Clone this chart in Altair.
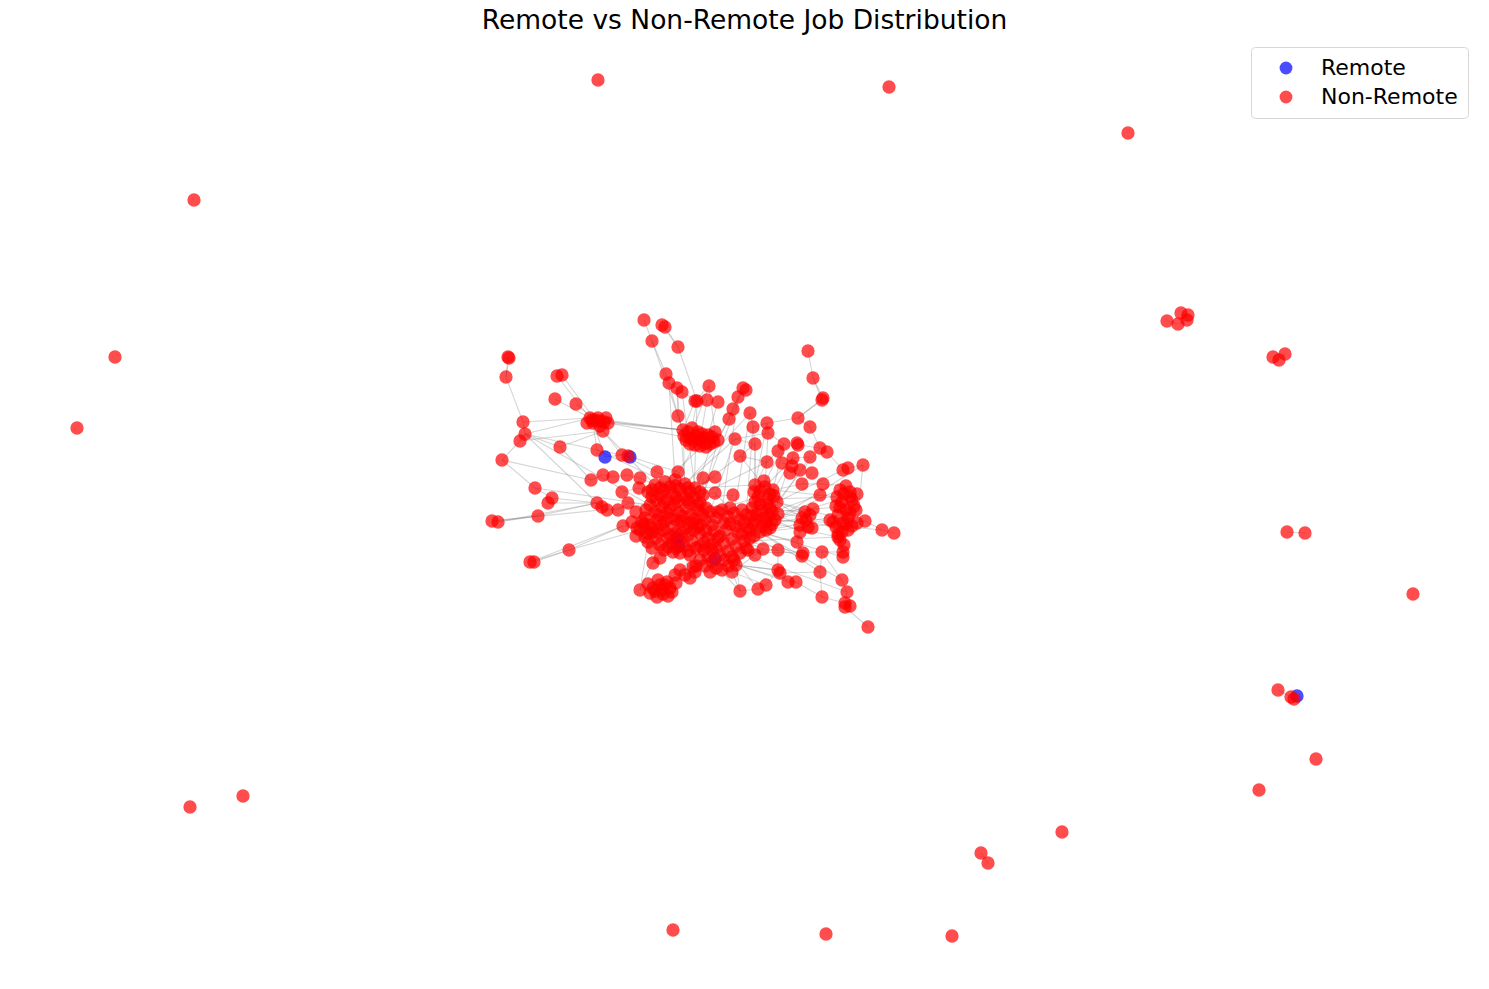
import altair as alt
import pandas as pd

# node positions in layout units (pixel grid of the original figure)
# isolated / small components, index 0-29
outer_nodes = [
    (598, 80), (889, 87), (1128, 133), (194, 200), (115, 357), (77, 428),
    (1167, 321), (1178, 324), (1181, 313), (1188, 315),
    (1187, 320), (1273, 357), (1279, 360), (1285, 354), (1287, 532),
    (1305, 533), (1413, 594), (1278, 690), (1291, 697), (1294, 699),
    (1316, 759), (1259, 790), (1062, 832), (981, 853), (988, 863),
    (190, 807), (243, 796), (673, 930), (826, 934), (952, 936),
]

# upper part of the main component, index 30-71
upper_nodes = [
    (644, 320), (662, 325), (665, 327), (652, 341), (678, 347), (508, 357),
    (509, 358), (506, 377), (557, 376), (562, 375),
    (666, 374), (669, 383), (677, 388), (682, 392), (555, 399), (576, 404),
    (697, 401), (590, 418), (595, 420), (600, 421),
    (608, 423), (593, 423), (603, 431), (678, 416), (523, 422), (525, 434),
    (520, 441), (560, 447), (502, 460), (597, 450),
    (622, 455), (628, 456), (657, 472), (678, 472), (683, 430), (690, 438),
    (700, 440), (708, 435), (715, 432), (695, 445),
    (705, 443), (718, 440),
]

# right part, index 72-163
right_nodes = [
    (808, 351), (813, 378), (823, 398), (822, 400), (709, 386), (743, 388),
    (746, 390), (695, 401),
    (707, 400), (718, 402), (738, 397), (733, 409), (729, 419), (750, 413),
    (767, 423), (768, 433), (798, 418), (810, 427),
    (753, 427), (735, 439), (755, 444), (784, 444), (778, 451), (797, 443),
    (798, 445), (820, 448), (827, 452), (740, 456),
    (767, 462), (793, 458), (792, 466), (782, 463), (810, 457), (800, 470),
    (790, 473), (812, 473), (843, 470), (848, 468),
    (863, 465), (802, 484), (823, 484), (846, 486), (703, 478), (715, 477),
    (820, 495), (837, 497), (850, 497), (857, 494),
    (715, 493), (733, 495), (805, 512), (813, 509), (840, 507), (850, 513),
    (802, 518), (808, 527), (812, 528), (833, 522),
    (843, 523), (857, 523), (865, 521), (882, 530), (894, 533), (800, 532),
    (797, 542), (838, 537), (840, 540), (803, 553),
    (802, 556), (822, 552), (843, 552), (843, 557), (778, 550), (763, 549),
    (755, 555), (748, 550), (778, 570), (780, 573),
    (820, 572), (732, 572), (796, 582), (788, 582), (740, 591), (758, 589),
    (766, 585), (842, 580), (847, 592), (822, 597),
    (845, 603), (850, 606), (845, 607), (868, 627),
]

# left part, index 164-203
left_nodes = [
    (591, 480), (603, 475), (613, 477), (627, 475), (640, 478), (622, 492),
    (639, 488), (648, 492), (535, 488), (552, 498), (548, 503), (597, 503),
    (602, 507), (607, 510), (618, 510), (628, 503),
    (538, 516), (492, 521), (498, 522), (623, 526), (637, 528), (647, 533),
    (569, 550), (530, 562), (534, 562), (653, 563),
    (660, 558), (668, 547), (673, 552), (680, 553), (640, 590), (653, 588),
    (662, 590), (670, 588), (667, 582), (658, 580),
    (663, 594), (690, 578), (680, 570), (693, 567),
]

# dense core, index 204-270
core_nodes = [
    (655, 485), (665, 482), (675, 480), (685, 484), (695, 488), (660, 495),
    (672, 493), (683, 496), (694, 498), (703, 495), (650, 505), (662, 507),
    (674, 505), (686, 508), (698, 510), (645, 518),
    (657, 520), (669, 518), (681, 521), (693, 523), (705, 520), (640, 530),
    (652, 532), (664, 530), (676, 533), (688, 535),
    (700, 533), (648, 542), (660, 545), (672, 543), (684, 546), (696, 548),
    (710, 512), (722, 510), (734, 513), (746, 515),
    (712, 525), (724, 523), (736, 526), (748, 528), (708, 538), (720, 536),
    (732, 539), (744, 541), (704, 550), (716, 548),
    (728, 551), (740, 553), (700, 560), (712, 562), (724, 560), (736, 565),
    (690, 555), (755, 485), (765, 487), (773, 490),
    (758, 497), (768, 499), (777, 502), (752, 508), (762, 510), (772, 512),
    (756, 520), (766, 522), (775, 520), (750, 530),
    (760, 532),
]

# overlapping nodes inside the packed clusters
packed_nodes = [
    (660, 488), (670, 487), (680, 489), (690, 492), (656, 500), (667, 500),
    (678, 501), (689, 503), (700, 503), (655, 512), (667, 513), (679, 513),
    (691, 515), (703, 515), (650, 525), (662, 525), (674, 526), (686, 528),
    (698, 527), (645, 537), (656, 538), (668, 538), (680, 540), (692, 541),
    (704, 543), (716, 518), (728, 517), (740, 520), (714, 531), (726, 530),
    (738, 533), (712, 544), (724, 543), (736, 546), (708, 556), (720, 555),
    (732, 557), (716, 568), (705, 566), (728, 566), (760, 491), (770, 494),
    (755, 502), (767, 505), (757, 514), (769, 516), (762, 526), (753, 524),
    (770, 528), (688, 432), (696, 436), (704, 438), (712, 437), (690, 444),
    (700, 446), (710, 444), (686, 440), (698, 432), (598, 418), (604, 422),
    (592, 420), (844, 494), (852, 500), (842, 502), (846, 510), (838, 515),
    (848, 518), (856, 510), (836, 527), (848, 530), (842, 532), (806, 520),
    (810, 515), (800, 525), (650, 593), (657, 597), (665, 585), (672, 592),
    (660, 585), (655, 591), (685, 575), (675, 575), (695, 572), (636, 512),
    (642, 522), (632, 522),
    (652, 490), (664, 490), (676, 486), (688, 488), (700, 492), (652, 497),
    (664, 502), (676, 498), (688, 500), (698, 505), (646, 510), (658, 515),
    (670, 510), (682, 516), (694, 519), (706, 508), (652, 528), (664, 522),
    (676, 520), (688, 523), (700, 525), (644, 524), (636, 536), (658, 533),
    (670, 535), (682, 533), (694, 530), (706, 531), (652, 548), (664, 550),
    (676, 548), (688, 551), (700, 546), (712, 550), (718, 512), (730, 508),
    (742, 510), (718, 538), (730, 524), (742, 534), (750, 538), (734, 560),
    (746, 548), (722, 570), (710, 572), (696, 566), (754, 492), (764, 481),
    (774, 496), (760, 504), (770, 508), (778, 514), (752, 516), (764, 518),
    (772, 524), (754, 536), (766, 530), (744, 522), (692, 428), (702, 434),
    (714, 442), (684, 436), (694, 440), (706, 447), (840, 490), (850, 492),
    (836, 506), (854, 506), (846, 524), (852, 526), (838, 534), (844, 545),
    (830, 520), (587, 423), (606, 418), (600, 426), (648, 584), (668, 596),
    (676, 583),
]

remote_nodes = [(605, 457), (630, 457), (677, 538), (679, 546), (715, 559), (1297, 696)]

# edges between non-remote nodes (indices into the lists above, in order)
edges = [
    (6, 7), (8, 9), (9, 10), (7, 10), (11, 12), (12, 13), (14, 15), (17, 18),
    (18, 19), (23, 24),
    (35, 37), (36, 37), (37, 54), (54, 55), (55, 56), (56, 58), (55, 57),
    (55, 47), (55, 59), (56, 52), (57, 52), (57, 164), (58, 172), (44, 47),
    (38, 47), (39, 48), (45, 48), (49, 64), (50, 65), (48, 64), (51, 59),
    (52, 60), (59, 60), (60, 62), (61, 63),
    (30, 33), (33, 40), (31, 34), (32, 34), (34, 46), (40, 41), (41, 42),
    (42, 43), (41, 53), (42, 53), (43, 46), (53, 64), (46, 65),
    (64, 65), (65, 66), (66, 67), (67, 68), (69, 70), (70, 71), (64, 69),
    (76, 65), (79, 64), (80, 66), (81, 67), (77, 71), (78, 82), (82, 83),
    (83, 84), (84, 71), (85, 90), (86, 90), (87, 91), (76, 79),
    (72, 73), (73, 74), (73, 75), (74, 88), (75, 88), (88, 86), (88, 89),
    (89, 97), (86, 87), (87, 93), (93, 94), (95, 96), (96, 97), (97, 98),
    (98, 108), (101, 104), (102, 103), (105, 106), (107, 111), (108, 109),
    (109, 110), (110, 131), (111, 112), (112, 113), (113, 118), (116, 117),
    (117, 118), (118, 119), (94, 100), (92, 99), (99, 100), (91, 92), (90, 92),
    (262, 122), (262, 126), (265, 129), (268, 130), (268, 135), (259, 116),
    (261, 117), (265, 124), (264, 127), (262, 131), (267, 137), (270, 136),
    (263, 122), (243, 126), (259, 111), (258, 101), (257, 100), (257, 92),
    (258, 99), (260, 93), (213, 114), (208, 115), (207, 91), (206, 69),
    (205, 70), (210, 120), (212, 121), (237, 121), (238, 120),
    (122, 123), (124, 125), (126, 127), (127, 128), (129, 130), (130, 131),
    (131, 132), (132, 133), (133, 134), (135, 136), (137, 138), (138, 142),
    (139, 140), (141, 142), (142, 143), (136, 139), (129, 137), (124, 129),
    (125, 130), (140, 144), (144, 145), (145, 146), (146, 147), (144, 148),
    (148, 149), (149, 150), (150, 141), (141, 157), (157, 158), (158, 160),
    (160, 161), (161, 162), (162, 163), (159, 160), (152, 153), (153, 149),
    (152, 159), (150, 159), (154, 155), (155, 156), (156, 148), (151, 154),
    (151, 146), (147, 255), (145, 251),
    (164, 165), (165, 166), (166, 167), (167, 168), (169, 170), (170, 171),
    (171, 204), (168, 204), (172, 173), (173, 174), (173, 175), (174, 175),
    (175, 176), (176, 177), (177, 178), (178, 179), (179, 214), (180, 175),
    (180, 181), (180, 182), (181, 182), (183, 184), (184, 185), (185, 226),
    (186, 187), (186, 188), (186, 183), (189, 190), (190, 191), (191, 192),
    (192, 193), (194, 195), (195, 196), (196, 197), (197, 198), (198, 199),
    (199, 200), (194, 231), (201, 202), (202, 203), (203, 252), (201, 256),
    (204, 205), (205, 206), (206, 207), (207, 208), (209, 210), (210, 211),
    (211, 212), (212, 213), (214, 215), (215, 216), (216, 217), (217, 218),
    (219, 220), (220, 221), (221, 222), (222, 223), (223, 224), (225, 226),
    (226, 227), (227, 228), (228, 229), (229, 230), (231, 232), (232, 233),
    (233, 234), (234, 235), (236, 237), (237, 238), (238, 239), (240, 241),
    (241, 242), (242, 243), (244, 245), (245, 246), (246, 247), (248, 249),
    (249, 250), (250, 251), (252, 253), (253, 254), (254, 255), (257, 258),
    (258, 259), (260, 261), (261, 262), (263, 264), (264, 265), (266, 267),
    (267, 268), (269, 270), (204, 209), (209, 214), (214, 219), (219, 225),
    (225, 231), (213, 236), (218, 240), (224, 244), (230, 248), (239, 263),
    (243, 269), (247, 270), (235, 256), (208, 257), (236, 260), (237, 263),
    (221, 241), (211, 238), (216, 246), (222, 250), (227, 253),
    (216, 99), (207, 85), (212, 100), (233, 151), (246, 154), (250, 155),
    (254, 153), (255, 148), (242, 144), (247, 145), (234, 201), (228, 189),
    (55, 214), (55, 175), (54, 47), (58, 164), (181, 214), (182, 175),
    (172, 214), (187, 183), (186, 225), (47, 64), (50, 64), (52, 204),
    (59, 205), (62, 206), (63, 207), (64, 207), (68, 212), (71, 213),
    (76, 68), (77, 213), (82, 237), (85, 238), (86, 257), (87, 258),
    (90, 239), (91, 236), (92, 257), (93, 259), (95, 262), (97, 262),
    (101, 261), (104, 265), (108, 262), (110, 268), (113, 268), (116, 265),
    (119, 268), (125, 270), (132, 270), (133, 268), (137, 247), (141, 251),
    (143, 270), (144, 251), (139, 247), (148, 255), (150, 270), (157, 270),
    (152, 255), (158, 251), (154, 253), (156, 252), (189, 231), (194, 232),
    (202, 248), (203, 249), (41, 206), (42, 207), (43, 208), (33, 64),
    (46, 212),
]

# edges from remote nodes (remote index, non-remote index)
remote_edges = [(0, 51), (0, 60), (1, 61), (1, 60), (2, 228), (3, 233), (4, 253), (5, 19), (5, 18)]

non_remote = outer_nodes + upper_nodes + right_nodes + left_nodes + core_nodes + packed_nodes

# remote first so the red nodes are drawn on top, like the original
nodes_df = pd.DataFrame(
    [{"x": x, "y": y, "type": "Remote"} for x, y in remote_nodes]
    + [{"x": x, "y": y, "type": "Non-Remote"} for x, y in non_remote]
)

edge_rows = []
for a, b in edges:
    edge_rows.append({"x": non_remote[a][0], "y": non_remote[a][1],
                      "x2": non_remote[b][0], "y2": non_remote[b][1]})
for a, b in remote_edges:
    edge_rows.append({"x": remote_nodes[a][0], "y": remote_nodes[a][1],
                      "x2": non_remote[b][0], "y2": non_remote[b][1]})
edges_df = pd.DataFrame(edge_rows)

x_scale = alt.Scale(domain=[8, 1481], nice=False, zero=False)
y_scale = alt.Scale(domain=[45, 981], nice=False, zero=False, reverse=True)

edge_layer = (
    alt.Chart(edges_df)
    .mark_rule(color="gray", opacity=0.33, strokeWidth=1.1)
    .encode(
        x=alt.X("x:Q", scale=x_scale, axis=None),
        y=alt.Y("y:Q", scale=y_scale, axis=None),
        x2="x2:Q",
        y2="y2:Q",
    )
)

node_layer = (
    alt.Chart(nodes_df)
    .mark_circle(size=177, opacity=0.7)
    .encode(
        x=alt.X("x:Q", scale=x_scale, axis=None),
        y=alt.Y("y:Q", scale=y_scale, axis=None),
        color=alt.Color(
            "type:N",
            scale=alt.Scale(domain=["Remote", "Non-Remote"], range=["blue", "red"]),
            legend=alt.Legend(
                title=None,
                orient="none",
                legendX=1243,
                legendY=2,
                labelFont="DejaVu Sans",
                labelFontSize=22,
                labelColor="black",
                labelOffset=24,
                symbolSize=165,
                symbolOpacity=0.7,
                symbolStrokeWidth=0,
                symbolOffset=14,
                rowPadding=7,
                padding=10,
                strokeColor="#d6d6d6",
                fillColor="white",
                cornerRadius=4,
            ),
        ),
    )
)

chart = (
    alt.layer(edge_layer, node_layer)
    .properties(
        width=1473,
        height=936,
        padding={"left": 0, "top": 37, "right": 0, "bottom": 0},
        autosize=alt.AutoSizeParams(type="none"),
        title=alt.TitleParams(
            "Remote vs Non-Remote Job Distribution",
            font="DejaVu Sans",
            fontSize=26.5,
            fontWeight="normal",
            color="black",
            anchor="middle",
            baseline="alphabetic",
            offset=0,
            dy=10,
        ),
    )
    .configure_view(stroke=None)
)

chart.save("out.html", embed_options={"renderer": "svg", "actions": False})
